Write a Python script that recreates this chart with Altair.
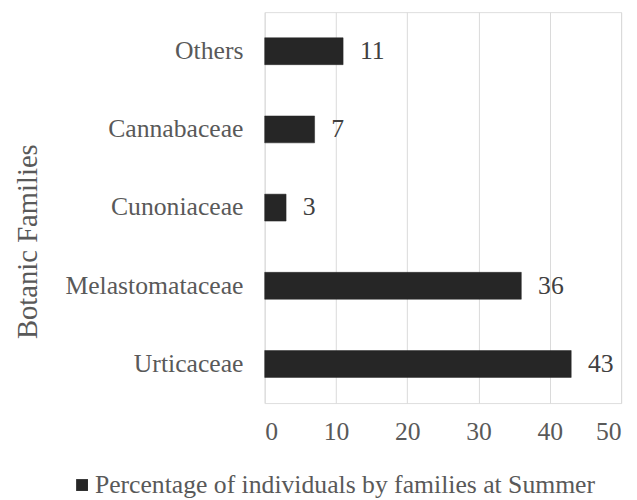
import altair as alt
import pandas as pd

families = ["Others", "Cannabaceae", "Cunoniaceae", "Melastomataceae", "Urticaceae"]
values = [11, 7, 3, 36, 43]
series_name = "Percentage of individuals by families at Summer"
x_ticks = [0, 10, 20, 30, 40, 50]

df = pd.DataFrame({"family": families, "value": values, "series": [series_name] * len(families)})

FONT = "Liberation Serif"
TXT = "#595959"
FS = 26

y_enc = alt.Y(
    "family:N",
    sort=families,
    scale=alt.Scale(paddingInner=0.656, paddingOuter=0.328),
    axis=alt.Axis(
        title="Botanic Families",
        titleFont=FONT,
        titleFontSize=29,
        titleFontWeight="normal",
        titleColor=TXT,
        titleX=-231,
        titleY=232,
        titleAngle=270,
        titleAlign="center",
        titleBaseline="alphabetic",
        labelFont=FONT,
        labelFontSize=FS,
        labelColor=TXT,
        labelPadding=22,
        labelLimit=400,
        domain=False,
        ticks=False,
        grid=False,
    ),
)

x_enc = alt.X(
    "value:Q",
    scale=alt.Scale(domain=[0, 50], nice=False),
    axis=alt.Axis(
        title=None,
        values=x_ticks,
        labelFont=FONT,
        labelFontSize=FS,
        labelColor=TXT,
        labelPadding=16,
        domain=False,
        ticks=False,
        grid=True,
        gridColor="#d9d9d9",
        gridWidth=1,
    ),
)

bars = alt.Chart(df).mark_bar(stroke="#262626", strokeWidth=0.5).encode(
    x=x_enc,
    y=y_enc,
    color=alt.Color(
        "series:N",
        scale=alt.Scale(range=["#262626"]),
        legend=alt.Legend(
            title=None,
            orient="none",
            legendX=-198,
            legendY=466,
            padding=0,
            symbolType="square",
            symbolSize=144,
            symbolStrokeWidth=0,
            labelFont=FONT,
            labelFontSize=FS,
            labelColor=TXT,
            labelOffset=0,
            labelLimit=700,
        ),
    ),
)

labels = alt.Chart(df).mark_text(
    align="left", baseline="middle", dx=17, font=FONT, fontSize=FS, color="#404040"
).encode(
    x="value:Q",
    y=alt.Y("family:N", sort=families),
    text="value:Q",
)

chart = (
    alt.layer(bars, labels)
    .properties(
        width=361,
        height=396,
        autosize=alt.AutoSizeParams(type="none"),
        padding={"left": 260, "top": 1, "right": 8, "bottom": 95},
        background="white",
    )
    .configure_view(stroke=None)
    .configure(font=FONT)
)

chart.save("out.html", embed_options={"renderer": "svg", "actions": False})
